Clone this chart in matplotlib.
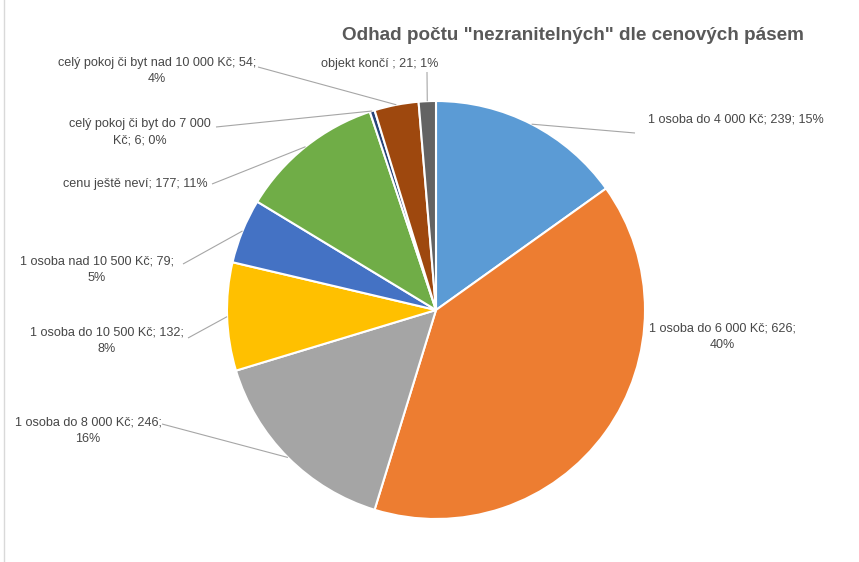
import numpy as np
import matplotlib.pyplot as plt
import matplotlib as mpl

mpl.rcParams['font.family'] = ['Liberation Sans', 'DejaVu Sans']

labels = ['1 osoba do 4 000 Kč', '1 osoba do 6 000 Kč', '1 osoba do 8 000 Kč',
          '1 osoba do 10 500 Kč', '1 osoba nad 10 500 Kč', 'cenu ještě neví',
          'celý pokoj či byt do 7 000 Kč', 'celý pokoj či byt nad 10 000 Kč',
          'objekt končí ']
values = [239, 626, 246, 132, 79, 177, 6, 54, 21]
percents = ['15%', '40%', '16%', '8%', '5%', '11%', '0%', '4%', '1%']
colors = ['#5B9BD5', '#ED7D31', '#A5A5A5', '#FFC000', '#4472C4',
          '#70AD47', '#264478', '#9E480E', '#636363']

# label texts as wrapped in the chart
label_texts = [
    '1 osoba do 4 000 Kč; 239; 15%',
    '1 osoba do 6 000 Kč; 626;\n40%',
    '1 osoba do 8 000 Kč; 246;\n16%',
    '1 osoba do 10 500 Kč; 132;\n8%',
    '1 osoba nad 10 500 Kč; 79;\n5%',
    'cenu ještě neví; 177; 11%',
    'celý pokoj či byt do 7 000\nKč; 6; 0%',
    'celý pokoj či byt nad 10 000 Kč; 54;\n4%',
    'objekt končí ; 21; 1%',
]

W, H = 859, 562
fig = plt.figure(figsize=(W / 100, H / 100), dpi=100)
ax = fig.add_axes([0, 0, 1, 1])

cx, cy, r = 436, H - 310, 209
wedges, _ = ax.pie(values, colors=colors, startangle=90, counterclock=False,
                   center=(cx, cy), radius=r, frame=True,
                   wedgeprops=dict(edgecolor='white', linewidth=1.5))
ax.set_xlim(0, W)
ax.set_ylim(0, H)
ax.set_aspect('equal')
ax.axis('off')

# (text x, text y in px from top, alignment, line start x, line start y)
label_pos = [
    (648, 120, 'left', 635, 133),
    (722, 337, 'center', None, None),
    (88, 431, 'center', 162, 424),
    (107, 341, 'center', 188, 338),
    (97, 270, 'center', 183, 264),
    (208, 184, 'right', 212, 184),
    (140, 132, 'center', 216, 127),
    (157, 71, 'center', 258, 67),
    (380, 64, 'center', 427, 72),
]

for w, txt, (tx, ty, ha, lx, ly) in zip(wedges, label_texts, label_pos):
    ax.text(tx, H - ty, txt, ha=ha, va='center', fontsize=9.1,
            color='#474747', linespacing=1.55, multialignment='center')
    if lx is not None:
        ang = np.deg2rad((w.theta1 + w.theta2) / 2)
        ex = cx + r * np.cos(ang)
        ey = cy + r * np.sin(ang)
        ax.plot([lx, ex], [H - ly, ey], color='#A6A6A6', lw=0.8,
                solid_capstyle='butt')

ax.text(573, H - 36, 'Odhad počtu "nezranitelných" dle cenových pásem',
        ha='center', va='center', fontsize=13.6, fontweight='bold', color='#595959')

# left chart border
ax.plot([4, 4], [0, H], color='#D9D9D9', lw=1)

fig.savefig('out.png', dpi=100)
